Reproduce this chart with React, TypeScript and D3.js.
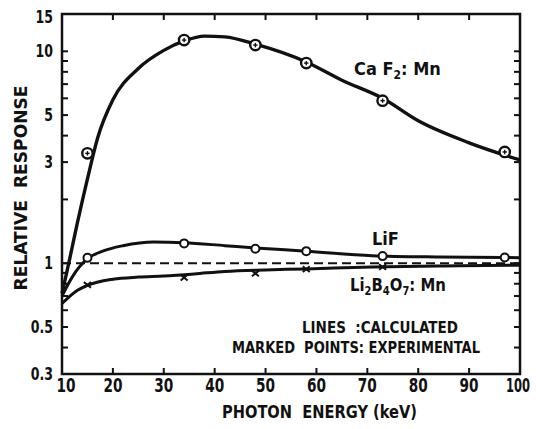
import React from "react";
import * as d3 from "d3";

const W = 536;
const H = 429;

// Curves (calculated)
const caf2CurveX = [10, 11, 12, 13, 15, 17, 20, 25, 30, 34, 38, 42, 48, 58, 65, 73, 80, 90, 100];
const caf2CurveY = [0.72, 0.92, 1.19, 1.54, 2.5, 3.9, 5.9, 8.3, 10.1, 11.2, 11.8, 11.7, 10.8, 8.9, 7.3, 6.0, 4.7, 3.7, 3.07];
const lifCurveX = [10, 12, 15, 18, 22, 28, 34, 42, 48, 58, 71, 84, 97, 100];
const lifCurveY = [0.7, 0.86, 1.05, 1.14, 1.21, 1.26, 1.25, 1.21, 1.18, 1.14, 1.085, 1.07, 1.064, 1.06];
const liboCurveX = [10, 12.5, 15, 20, 25, 30, 36, 42, 50, 58, 71, 85, 100];
const liboCurveY = [0.645, 0.73, 0.785, 0.84, 0.86, 0.87, 0.89, 0.915, 0.93, 0.94, 0.96, 0.97, 0.978];

// Experimental points
const caf2PtsX = [15, 34, 48, 58, 73, 97];
const caf2PtsY = [3.3, 11.3, 10.7, 8.8, 5.85, 3.35];
const lifPtsX = [15, 34, 48, 58, 73, 97];
const lifPtsY = [1.06, 1.24, 1.17, 1.14, 1.08, 1.064];
const liboPtsX = [15, 34, 48, 58, 73];
const liboPtsY = [0.79, 0.855, 0.894, 0.937, 0.96];

const xTicks = [10, 20, 30, 40, 50, 60, 70, 80, 90, 100];
const yTickLabels = [0.3, 0.5, 1, 3, 5, 10, 15];
const yMinorTicks = [0.4, 0.5, 0.6, 0.7, 0.8, 0.9, 1, 2, 3, 4, 5, 6, 7, 8, 9, 10];

const FONT = "'Liberation Sans Narrow', 'DejaVu Sans Condensed', 'Arial Narrow', sans-serif";

export default function App() {
  const left = 62, right = 520, top = 14, bottom = 374;
  const x = d3.scaleLinear().domain([10, 100]).range([left, right]);
  const y = d3.scaleLog().domain([0.3, 15]).range([bottom, top]);

  const line = d3
    .line<[number, number]>()
    .x((d) => x(d[0]))
    .y((d) => y(d[1]))
    .curve(d3.curveMonotoneX);

  const zip = (a: number[], b: number[]) => a.map((v, i) => [v, b[i]] as [number, number]);

  const stroke = "#111";

  return (
    <svg
      width={W}
      height={H}
      style={{ position: "absolute", left: 0, top: 0, background: "#fff" }}
      fontFamily={FONT}
      fontWeight="bold"
    >
      <rect x={0} y={0} width={W} height={H} fill="#fff" />
      {/* dashed reference at 1 */}
      <line x1={left} x2={right} y1={y(1)} y2={y(1)} stroke={stroke} strokeWidth={2} strokeDasharray="9,5" />
      {/* curves */}
      <path d={line(zip(caf2CurveX, caf2CurveY)) || ""} fill="none" stroke={stroke} strokeWidth={3.4} />
      <path d={line(zip(lifCurveX, lifCurveY)) || ""} fill="none" stroke={stroke} strokeWidth={3} />
      <path d={line(zip(liboCurveX, liboCurveY)) || ""} fill="none" stroke={stroke} strokeWidth={3} />

      {/* CaF2 markers */}
      {caf2PtsX.map((v, i) => {
        const cx = x(v), cy = y(caf2PtsY[i]);
        return (
          <g key={"c" + i}>
            <circle cx={cx} cy={cy} r={5.2} fill="#fff" stroke={stroke} strokeWidth={2.4} />
            <line x1={cx - 2.2} x2={cx + 2.2} y1={cy} y2={cy} stroke={stroke} strokeWidth={1.4} />
            <line x1={cx} x2={cx} y1={cy - 2.2} y2={cy + 2.2} stroke={stroke} strokeWidth={1.4} />
          </g>
        );
      })}
      {/* LiF markers */}
      {lifPtsX.map((v, i) => (
        <circle key={"l" + i} cx={x(v)} cy={y(lifPtsY[i])} r={4} fill="#fff" stroke={stroke} strokeWidth={2} />
      ))}
      {/* Li2B4O7 markers */}
      {liboPtsX.map((v, i) => {
        const cx = x(v), cy = y(liboPtsY[i]);
        const s = 3.5;
        return (
          <g key={"b" + i}>
            <line x1={cx - s} x2={cx + s} y1={cy - s * 0.8} y2={cy + s * 0.8} stroke={stroke} strokeWidth={2} />
            <line x1={cx - s} x2={cx + s} y1={cy + s * 0.8} y2={cy - s * 0.8} stroke={stroke} strokeWidth={2} />
          </g>
        );
      })}

      {/* frame */}
      <rect x={left} y={top} width={right - left} height={bottom - top} fill="none" stroke={stroke} strokeWidth={2.5} />

      {/* x ticks */}
      {xTicks.slice(1, -1).map((t) => (
        <g key={"xt" + t}>
          <line x1={x(t)} x2={x(t)} y1={bottom} y2={bottom - 6} stroke={stroke} strokeWidth={2} />
          <line x1={x(t)} x2={x(t)} y1={top} y2={top + 6} stroke={stroke} strokeWidth={2} />
        </g>
      ))}
      {/* y ticks */}
      {yMinorTicks.map((t) => (
        <g key={"yt" + t}>
          <line x1={left} x2={left + 6} y1={y(t)} y2={y(t)} stroke={stroke} strokeWidth={2} />
          <line x1={right} x2={right - 6} y1={y(t)} y2={y(t)} stroke={stroke} strokeWidth={2} />
        </g>
      ))}

      {/* x tick labels */}
      {xTicks.map((t) => {
        const cx = x(t) + (t === 10 ? 4 : t === 100 ? -2 : 0);
        const sx = t >= 100 ? 0.64 : 0.76;
        return (
          <g key={"xl" + t} transform={`translate(${cx},392) scale(${sx},1)`}>
            <text x={0} y={0} fontSize={20} fill={stroke} textAnchor="middle">
              {t}
            </text>
          </g>
        );
      })}
      {/* y tick labels */}
      {yTickLabels.map((t) => (
        <g key={"yl" + t} transform={`translate(53,${y(t) + (t === 15 ? 9 : 6)}) scale(0.82,1)`}>
          <text x={0} y={0} fontSize={17} fill={stroke} textAnchor="end">
            {t}
          </text>
        </g>
      ))}

      {/* axis titles */}
      <text x={222} y={418} fontSize={17} fill={stroke} textLength={195} lengthAdjust="spacingAndGlyphs">
        PHOTON{"\u00a0\u00a0"}ENERGY (keV)
      </text>
      <text
        transform="translate(27,188) rotate(-90)"
        fontSize={18}
        textAnchor="middle"
        fill={stroke}
        textLength={205}
        lengthAdjust="spacingAndGlyphs"
      >
        RELATIVE{"\u00a0\u00a0"}RESPONSE
      </text>

      {/* series labels */}
      <text x={354} y={75} fontSize={18} fill={stroke}>
        Ca F<tspan fontSize={12} dy={4}>2</tspan>
        <tspan dy={-4}>: Mn</tspan>
      </text>
      <text x={372} y={245} fontSize={18} fill={stroke}>
        LiF
      </text>
      <g transform="translate(350,291) scale(0.92,1)">
        <text x={0} y={0} fontSize={18} fill={stroke}>
          Li<tspan fontSize={12} dy={4}>2</tspan>
          <tspan dy={-4}>B</tspan>
          <tspan fontSize={12} dy={4}>4</tspan>
          <tspan dy={-4}>O</tspan>
          <tspan fontSize={12} dy={4}>7</tspan>
          <tspan dy={-4}>: Mn</tspan>
        </text>
      </g>

      {/* notes */}
      <text x={302} y={333} fontSize={15} fill={stroke} textLength={156} lengthAdjust="spacingAndGlyphs">
        LINES{"\u00a0\u00a0"}:CALCULATED
      </text>
      <text x={232} y={353} fontSize={15} fill={stroke} textLength={248} lengthAdjust="spacingAndGlyphs">
        MARKED{"\u00a0\u00a0"}POINTS: EXPERIMENTAL
      </text>
    </svg>
  );
}
